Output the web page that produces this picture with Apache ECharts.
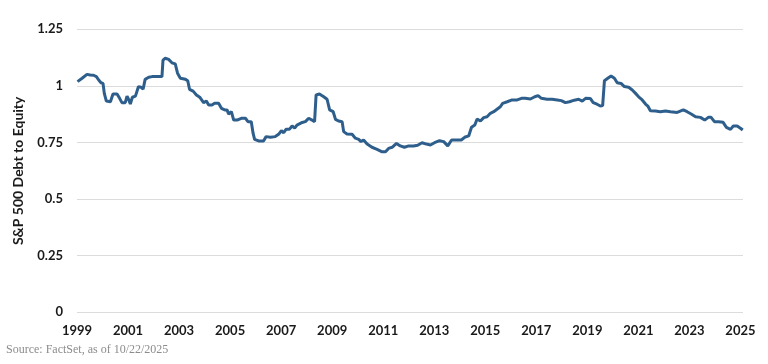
<!DOCTYPE html>
<html>
<head>
<meta charset="utf-8">
<script src="https://cdn.jsdelivr.net/npm/echarts@6/dist/echarts.min.js"></script>
<style>
  html, body { margin: 0; padding: 0; background: #fff; }
  #chart { width: 768px; height: 364px; }
</style>
</head>
<body>
<div id="chart"></div>
<script>
const years = [
  1999.02,1999.20,1999.39,1999.52,1999.65,1999.76,1999.85,1999.94,2000.02,2000.07,
  2000.15,2000.31,2000.41,2000.57,2000.67,2000.76,2000.89,2000.96,2001.02,2001.09,
  2001.17,2001.29,2001.35,2001.41,2001.51,2001.59,2001.67,2001.81,2001.94,2002.14,
  2002.33,2002.37,2002.46,2002.59,2002.72,2002.85,2002.94,2003.05,2003.25,2003.34,
  2003.41,2003.55,2003.68,2003.81,2003.87,2003.96,2004.07,2004.16,2004.29,2004.39,
  2004.55,2004.66,2004.79,2004.88,2004.94,2005.05,2005.14,2005.27,2005.44,2005.60,
  2005.70,2005.83,2005.90,2005.96,2006.12,2006.31,2006.41,2006.58,2006.77,2006.90,
  2007.01,2007.10,2007.19,2007.32,2007.43,2007.53,2007.62,2007.79,2007.95,2008.08,
  2008.21,2008.31,2008.37,2008.50,2008.67,2008.80,2008.90,2009.04,2009.13,2009.25,
  2009.39,2009.45,2009.58,2009.78,2009.91,2010.04,2010.13,2010.23,2010.37,2010.56,
  2010.76,2010.96,2011.09,2011.21,2011.35,2011.52,2011.67,2011.83,2012.00,2012.19,
  2012.35,2012.52,2012.69,2012.85,2013.01,2013.21,2013.37,2013.53,2013.68,2013.90,
  2014.06,2014.19,2014.35,2014.46,2014.59,2014.68,2014.81,2014.94,2015.07,2015.20,
  2015.33,2015.46,2015.59,2015.68,2015.86,2016.05,2016.25,2016.42,2016.57,2016.77,
  2016.94,2017.07,2017.20,2017.42,2017.62,2017.82,2017.98,2018.14,2018.30,2018.49,
  2018.66,2018.80,2018.93,2019.12,2019.23,2019.38,2019.51,2019.60,2019.67,2019.80,
  2019.93,2020.06,2020.17,2020.32,2020.45,2020.62,2020.76,2020.89,2021.01,2021.15,
  2021.28,2021.37,2021.47,2021.67,2021.86,2022.06,2022.26,2022.52,2022.76,2022.91,
  2023.07,2023.24,2023.43,2023.60,2023.74,2023.85,2023.98,2024.15,2024.32,2024.45,
  2024.61,2024.72,2024.87,2025.00,2025.09
];
const debtToEquity = [
  1.019,1.034,1.051,1.048,1.047,1.041,1.026,1.014,1.011,0.967,
  0.933,0.930,0.964,0.964,0.945,0.926,0.926,0.955,0.941,0.920,
  0.950,0.955,0.960,0.997,0.994,0.985,1.029,1.038,1.041,1.041,
  1.041,1.114,1.122,1.117,1.102,1.097,1.056,1.034,1.029,1.023,
  0.985,0.977,0.960,0.950,0.945,0.926,0.933,0.916,0.916,0.923,
  0.923,0.901,0.894,0.894,0.876,0.886,0.849,0.849,0.857,0.857,
  0.842,0.842,0.791,0.764,0.757,0.757,0.776,0.773,0.776,0.786,
  0.802,0.793,0.808,0.808,0.823,0.813,0.827,0.837,0.842,0.857,
  0.849,0.842,0.960,0.964,0.952,0.941,0.894,0.886,0.852,0.845,
  0.842,0.798,0.788,0.786,0.769,0.764,0.754,0.761,0.743,0.729,
  0.720,0.709,0.709,0.724,0.729,0.746,0.735,0.729,0.735,0.735,
  0.738,0.749,0.743,0.739,0.749,0.758,0.754,0.735,0.761,0.761,
  0.761,0.773,0.779,0.817,0.827,0.854,0.845,0.860,0.864,0.879,
  0.886,0.897,0.908,0.923,0.930,0.938,0.938,0.945,0.945,0.942,
  0.952,0.957,0.945,0.941,0.941,0.938,0.935,0.926,0.930,0.937,
  0.941,0.933,0.945,0.944,0.926,0.919,0.911,0.913,1.023,1.034,
  1.044,1.034,1.014,1.011,0.997,0.994,0.982,0.967,0.952,0.938,
  0.920,0.911,0.890,0.889,0.886,0.889,0.886,0.883,0.894,0.886,
  0.876,0.864,0.861,0.849,0.861,0.861,0.842,0.842,0.839,0.817,
  0.808,0.823,0.823,0.813,0.805
];
const yTicks = [0, 0.25, 0.5, 0.75, 1, 1.25];
const xLabelYears = [1999,2001,2003,2005,2007,2009,2011,2013,2015,2017,2019,2021,2023,2025];

const seriesData = years.map((y, i) => [y, debtToEquity[i]]);

const chart = echarts.init(document.getElementById('chart'), null, { renderer: 'canvas' });
chart.setOption({
  backgroundColor: '#ffffff',
  animation: false,
  grid: { left: 77, right: 25, top: 29.3, bottom: 51.7, containLabel: false },
  graphic: [{
    type: 'text', left: 6, top: 344,
    style: { text: 'Source: FactSet, as of 10/22/2025', fill: '#8c8c8c',
      font: '12px "Liberation Serif", "Times New Roman", serif' }
  }],
  xAxis: {
    type: 'value', min: 1999, max: 2025.1, interval: 1,
    axisLine: { show: false }, axisTick: { show: false }, splitLine: { show: false },
    axisLabel: {
      margin: 12, color: '#1a1a1a', fontFamily: 'Lato', fontWeight: 'bold', fontSize: 13,
      showMaxLabel: false,
      formatter: v => xLabelYears.indexOf(Math.round(v * 100) / 100) >= 0 ? String(v) : ''
    }
  },
  yAxis: {
    type: 'value', min: yTicks[0], max: yTicks[yTicks.length - 1], interval: 0.25,
    name: 'S&P 500 Debt to Equity', nameLocation: 'middle', nameGap: 52, nameRotate: 90,
    nameTextStyle: { color: '#1a1a1a', fontFamily: 'Lato', fontWeight: 'bold', fontSize: 14 },
    axisLine: { show: false }, axisTick: { show: false },
    splitLine: { lineStyle: { color: '#dcdcdc', width: 1.2 } },
    axisLabel: {
      margin: 14, color: '#1a1a1a', fontFamily: 'Lato', fontWeight: 'bold', fontSize: 13,
      formatter: v => String(v)
    }
  },
  series: [{
    type: 'line', data: seriesData, showSymbol: false, symbol: 'none',
    lineStyle: { color: '#2e5f8c', width: 3 }, z: 3
  }]
});
</script>
</body>
</html>
